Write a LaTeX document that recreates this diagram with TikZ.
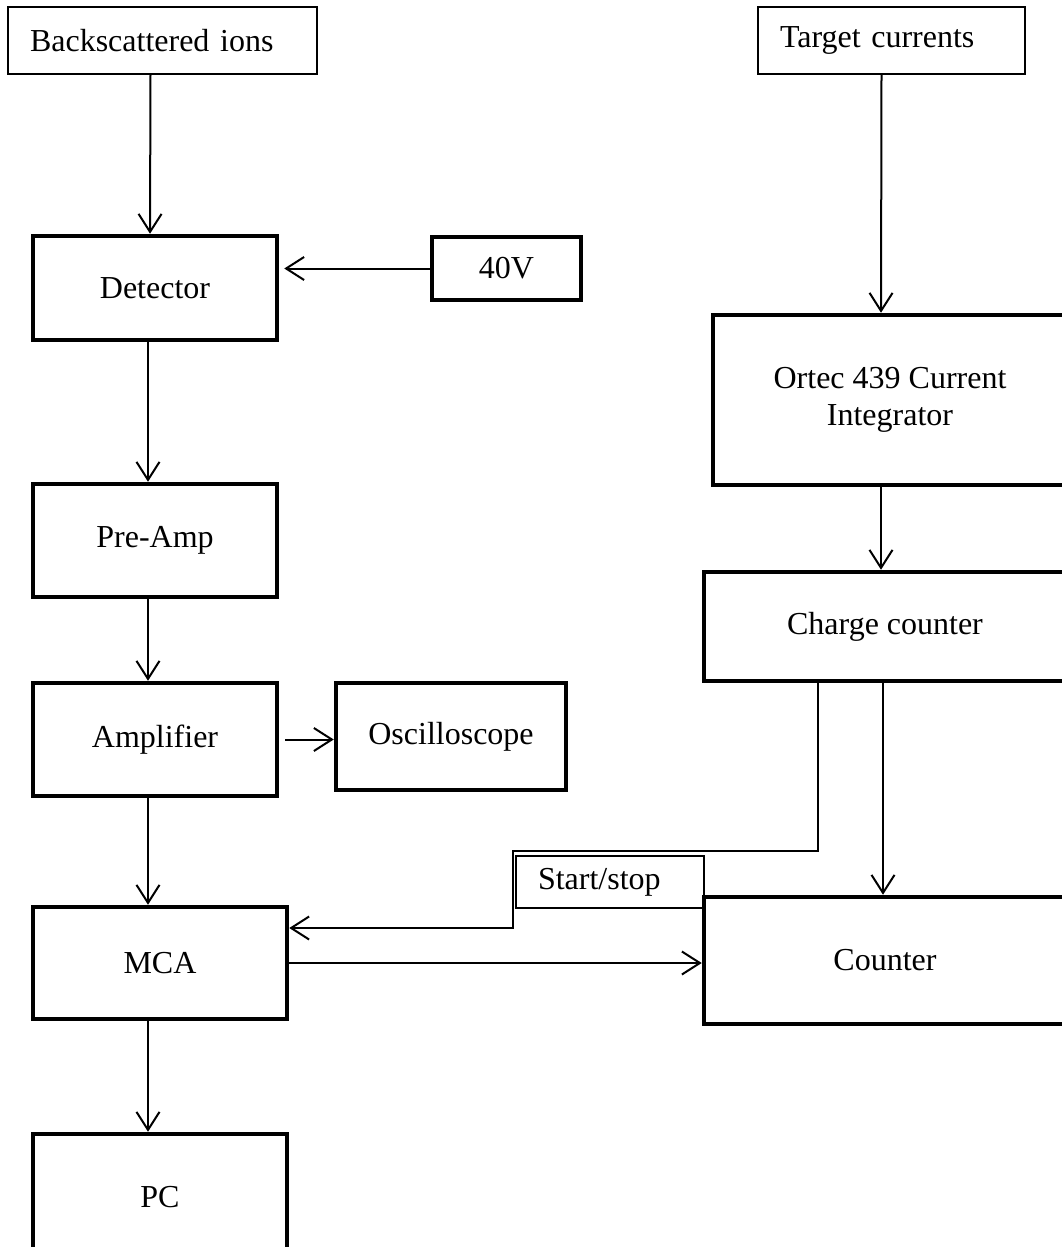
\documentclass[tikz,border=0pt]{standalone}
\usepackage{fontspec}
\setmainfont{Liberation Serif}
\usepackage{tikz}
\usetikzlibrary{arrows.meta}

\begin{document}
\begin{tikzpicture}[x=1pt,y=-1pt,
    font=\fontsize{32}{37}\selectfont,
    thinbox/.style={draw,line width=1.5pt,minimum height=#1,align=left},
    thickbox/.style={draw,line width=4.5pt,minimum height=#1,align=center},
    arr/.style={line width=2pt,-{Straight Barb[length=18pt,width=23pt]}}]
  \useasboundingbox (0,0) rectangle (1062,1247);
  \clip (0,0) rectangle (1062,1247);
  \node[thinbox=67pt,text width=265pt,inner xsep=22pt] (back) at (162.5,40.5) {Backscattered ions};
  \node[thinbox=67pt,text width=223pt,inner xsep=22pt] (targ) at (891.5,40.5) {Target currents};
  \node[thickbox=104pt,minimum width=244pt] (det) at (155,288) {Detector};
  \node[thickbox=63pt,minimum width=149pt] (v40) at (506.5,268.5) {40V};
  \node[thickbox=170pt,minimum width=354pt] (ortec) at (890,400) {Ortec 439 Current\\Integrator};
  \node[thickbox=113pt,minimum width=244pt] (pre) at (155,540.5) {Pre-Amp};
  \node[thickbox=109pt,minimum width=362pt] (charge) at (885,626.5) {Charge counter};
  \node[thickbox=113pt,minimum width=244pt] (amp) at (155,739.5) {Amplifier};
  \node[thickbox=107pt,minimum width=230pt] (osc) at (451,736.5) {Oscilloscope};
  \node[thinbox=52pt,text width=144pt,inner xsep=22pt] (ss) at (610,882) {Start/stop};
  \node[thickbox=112pt,minimum width=254pt] (mca) at (160,963) {MCA};
  \node[thickbox=127pt,minimum width=362pt] (counter) at (885,960.5) {Counter};
  \node[thickbox=126pt,minimum width=254pt] (pc) at (160,1197) {PC};
  \coordinate (sskink) at (513,851);
  \draw[arr] ([xshift=-12pt]back.south) -- ([xshift=-5pt]det.north);
  \draw[arr] (v40.west) -- ([xshift=5pt]v40.west -| det.east);
  \draw[arr] ([xshift=-7pt]det.south) -- ([xshift=-7pt]pre.north);
  \draw[arr] ([xshift=-7pt]pre.south) -- ([xshift=-7pt]amp.north);
  \draw[arr] ([xshift=6pt]amp.east) -- (amp.east -| osc.west);
  \draw[arr] ([xshift=-7pt]amp.south) -- ([xshift=-12pt]mca.north);
  \draw[arr] ([xshift=-12pt]mca.south) -- ([xshift=-12pt]pc.north);
  \draw[arr] ([xshift=-10pt]targ.south) -- ([xshift=-9pt]ortec.north);
  \draw[arr] ([xshift=-9pt]ortec.south) -- ([xshift=-4pt]charge.north);
  \draw[arr] ([xshift=-2pt]charge.south) -- ([xshift=-2pt]counter.north);
  \draw[arr] ([xshift=-67pt]charge.south) |- (sskink) |- ([yshift=35pt]mca.east);
  \draw[arr] (mca.east) -- (mca.east -| counter.west);
\end{tikzpicture}
\end{document}
